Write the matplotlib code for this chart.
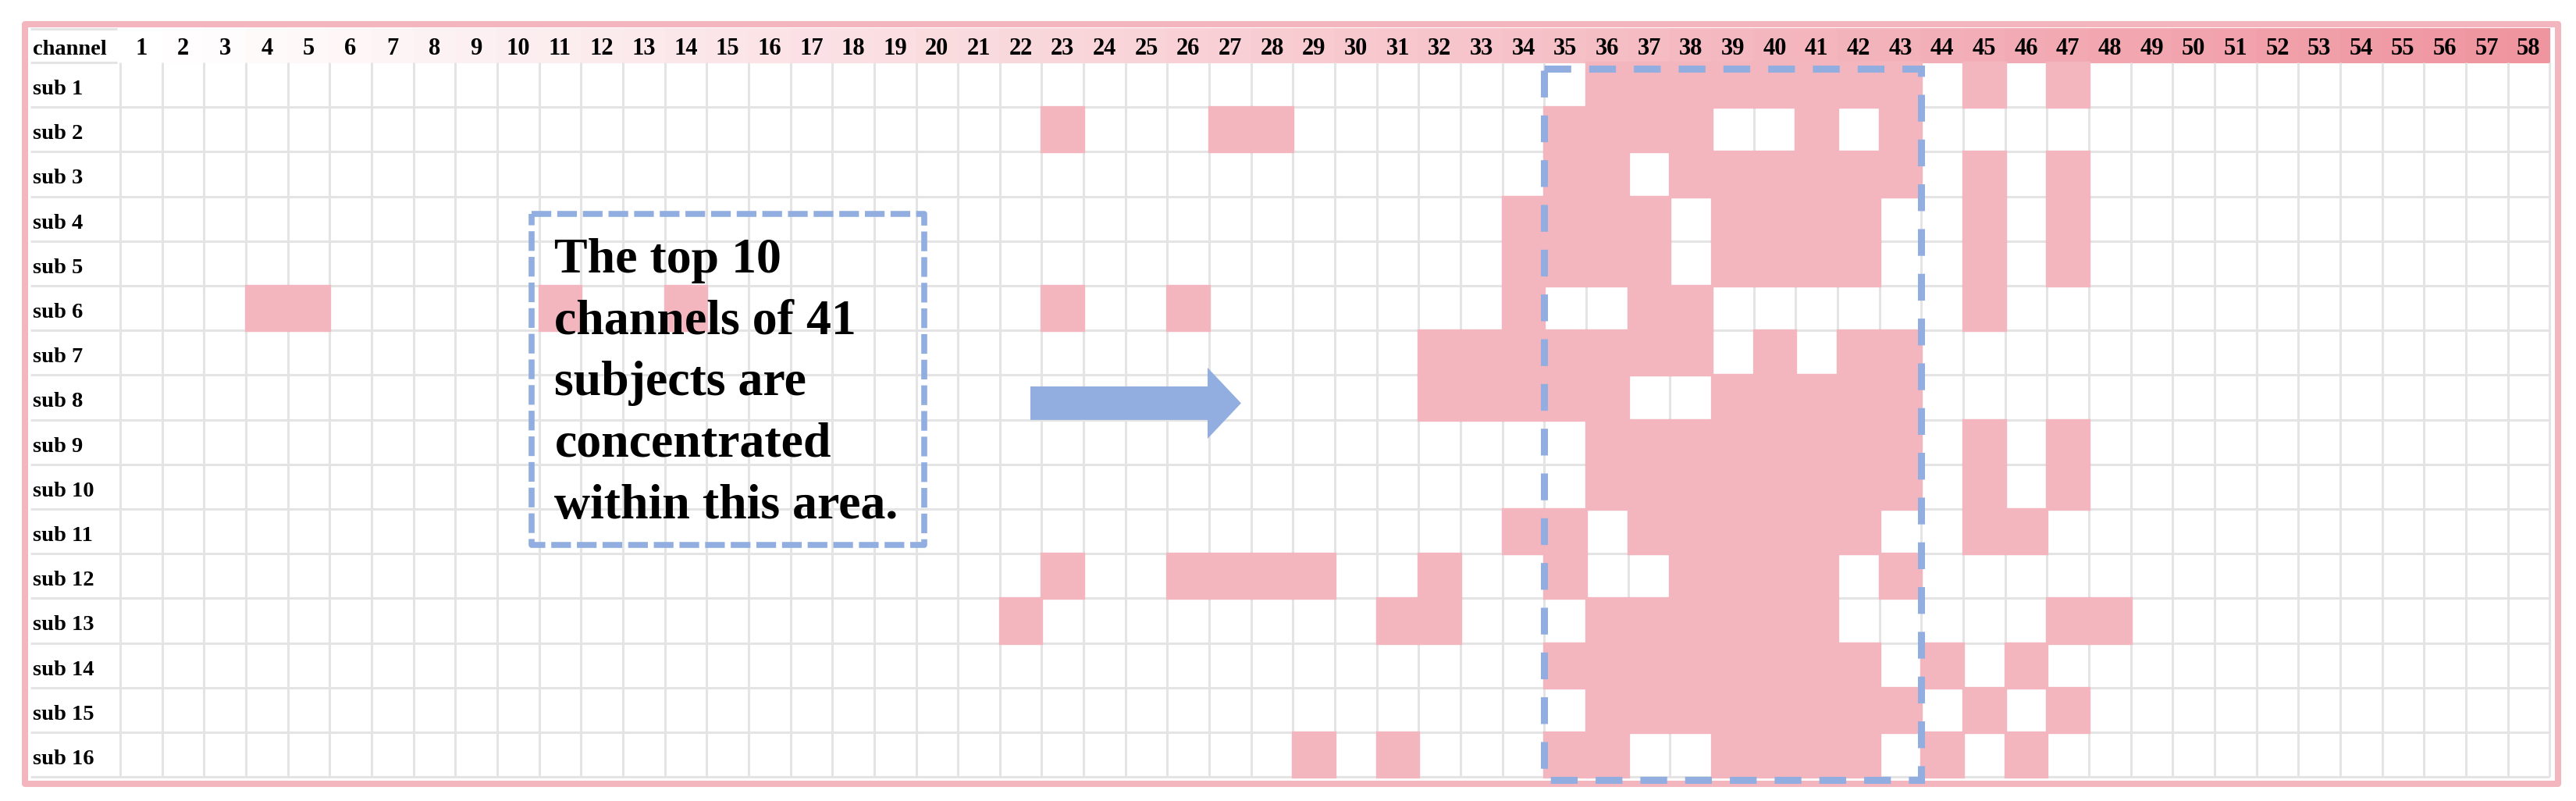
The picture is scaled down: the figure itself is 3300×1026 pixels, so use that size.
import numpy as np
import matplotlib.pyplot as plt
from matplotlib.patches import Rectangle, FancyArrow
from matplotlib.colors import LinearSegmentedColormap

# channels and subjects
channels = list(range(1, 59))
subjects = [f"sub {i}" for i in range(1, 17)]

# top-ranked channels for each subject
sub_1 = [36, 37, 38, 39, 40, 41, 42, 43, 45, 47]
sub_2 = [23, 27, 28, 35, 36, 37, 38, 41, 43]
sub_3 = [35, 36, 38, 39, 40, 41, 42, 43, 45, 47]
sub_4 = [34, 35, 36, 37, 39, 40, 41, 42, 45, 47]
sub_5 = [34, 35, 36, 37, 39, 40, 41, 42, 45, 47]
sub_6 = [4, 5, 11, 14, 23, 26, 34, 37, 38, 45]
sub_7 = [32, 33, 34, 35, 36, 37, 38, 40, 42, 43]
sub_8 = [32, 33, 34, 35, 36, 39, 40, 41, 42, 43]
sub_9 = [36, 37, 38, 39, 40, 41, 42, 43, 45, 47]
sub_10 = [36, 37, 38, 39, 40, 41, 42, 43, 45, 47]
sub_11 = [34, 35, 37, 38, 39, 40, 41, 42, 45, 46]
sub_12 = [23, 26, 27, 28, 29, 32, 35, 38, 39, 40, 41, 43]
sub_13 = [22, 31, 32, 36, 37, 38, 39, 40, 41, 47, 48]
sub_14 = [35, 36, 37, 38, 39, 40, 41, 42, 44, 46]
sub_15 = [36, 37, 38, 39, 40, 41, 42, 43, 45, 47]
sub_16 = [29, 31, 35, 36, 39, 40, 41, 42, 44, 46]
top_channels = [sub_1, sub_2, sub_3, sub_4, sub_5, sub_6, sub_7, sub_8,
                sub_9, sub_10, sub_11, sub_12, sub_13, sub_14, sub_15, sub_16]

# highlighted channel range and note text
focus_range = (35, 43)
note_lines = ["The top 10", "channels of 41", "subjects are",
              "concentrated", "within this area."]

# styles
pink = '#F4B6BE'
blue = '#92AEE0'
grid_c = '#E4E4E4'
serif = 'Liberation Serif'
hdr_cmap = LinearSegmentedColormap.from_list('hdr', ['#FFFFFF', '#EF95A0'])

fig = plt.figure(figsize=(33, 10.26), dpi=100)
ax = fig.add_axes([0, 0, 1, 1])
ax.set_xlim(-2.37, 59.13)
ax.set_ylim(17.04, -0.90)
ax.axis('off')

n_ch = len(channels)
n_sub = len(subjects)
label_left = -1.643
hdr_top = -0.27

# header gradient cells
hdr_colors = [hdr_cmap(i / (n_ch - 1)) for i in range(n_ch)]
ax.bar(channels, 0.5 - hdr_top, bottom=hdr_top, width=1.0,
       color=hdr_colors, edgecolor=hdr_colors, linewidth=0.8, zorder=1)

# grid lines
ax.vlines(np.arange(0.5, n_ch + 1), 0.5, n_sub + 0.5, color=grid_c, lw=2.2, zorder=2)
ax.hlines(np.arange(1.5, n_sub + 1), label_left, n_ch + 0.5, color=grid_c, lw=2.2, zorder=2)
ax.hlines([hdr_top + 0.02, 0.5], label_left, 0.42, color=grid_c, lw=2.2, zorder=2)

# selected cells
for r, chs in enumerate(top_channels, start=1):
    ax.bar(chs, 1.0, bottom=r - 0.5, width=1.0, color=pink,
           edgecolor=pink, linewidth=2.4, zorder=3)

# header and row labels
ax.text(-1.587, 0.323, "channel", ha='left', va='baseline', fontsize=20.5,
        fontweight='bold', family=serif, zorder=6)
for c in channels:
    ax.text(c, 0.323, str(c), ha='center', va='baseline', fontsize=22,
            fontweight='bold', family=serif, zorder=6)
for r, name in enumerate(subjects, start=1):
    ax.text(-1.587, r + 0.217, name, ha='left', va='baseline', fontsize=20.5,
            fontweight='bold', family=serif, zorder=6)

# outer frame
ax.add_patch(Rectangle((-1.774, -0.35), 58.70 + 1.774, 16.66 + 0.35, fill=False,
                       ec=pink, lw=5.8, joinstyle='round', zorder=7))

# dashed box around the focus channels
ax.add_patch(Rectangle((focus_range[0] - 0.5, 0.638), focus_range[1] - focus_range[0] + 1,
                       16.56 - 0.638, fill=False, ec=blue, lw=6.5,
                       ls=(0, (3.8, 2.55)), zorder=8))

# note box with text
ax.add_patch(Rectangle((10.33, 3.896), 19.70 - 10.33, 11.30 - 3.896, fill=False,
                       ec=blue, lw=5.5, ls=(0, (3.3, 1.0)), joinstyle='round', zorder=8))
for i, line in enumerate(note_lines):
    ax.text(10.87, 5.20 + i * 1.376, line, ha='left', va='baseline', fontsize=46,
            fontweight='bold', family=serif, zorder=9)

# arrow pointing at the focus area
ax.add_patch(FancyArrow(22.23, 8.13, 27.26 - 22.23, 0, width=0.75, head_width=1.59,
                        head_length=0.80, length_includes_head=True,
                        color=blue, lw=0, zorder=8))

fig.savefig('out.png', dpi=100, facecolor='white')
